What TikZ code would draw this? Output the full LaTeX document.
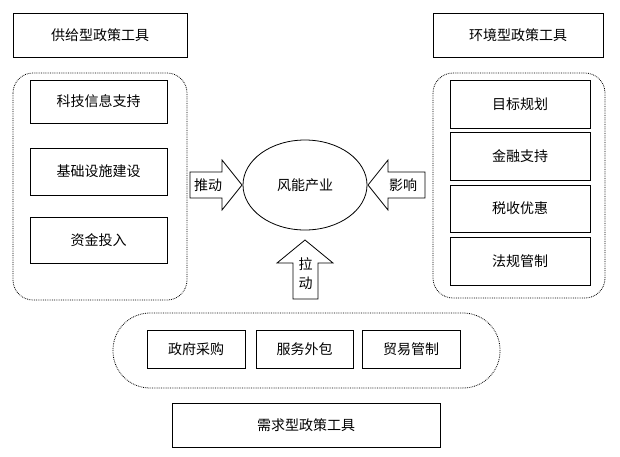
\documentclass[tikz,border=0pt]{standalone}
\usepackage{fontspec}
\usetikzlibrary{shapes.geometric}
\setmainfont{Noto Sans CJK SC}
\begin{document}
\begin{tikzpicture}[x=1pt,y=-1pt,
  box/.style={draw,thick,inner sep=0pt,font=\fontsize{14}{16}\selectfont},
  cont/.style={draw,densely dotted,thick},
  lbl/.style={font=\fontsize{14}{16}\selectfont,inner sep=0pt}]
\useasboundingbox (0,0) rectangle (620,456);
\newcommand\bx[6]{\node[box,minimum width=#4-#2,minimum height=#5-#3] (#1) at ({(#2+#4)/2},{(#3+#5)/2}) {#6};}
\bx{sup}{13}{13}{187}{57}{供给型政策工具}
\bx{env}{433}{13}{603}{57}{环境型政策工具}
\bx{dem}{172}{403}{440}{447}{需求型政策工具}
\draw[cont,rounded corners=20] (13,73) rectangle (187,300);
\draw[cont,rounded corners=20] (433,73) rectangle (605,298);
\draw[cont,rounded corners=37] (113,313) rectangle (500,388);
\bx{s1}{30}{80}{167}{123}{科技信息支持}
\bx{s2}{30}{148}{167}{195}{基础设施建设}
\bx{s3}{30}{217}{167}{263}{资金投入}
\bx{e1}{450}{80}{590}{128}{目标规划}
\bx{e2}{450}{132}{590}{180}{金融支持}
\bx{e3}{450}{185}{590}{232}{税收优惠}
\bx{e4}{450}{237}{590}{285}{法规管制}
\bx{d1}{147}{330}{245}{368}{政府采购}
\bx{d2}{256}{330}{353}{368}{服务外包}
\bx{d3}{362}{330}{460}{368}{贸易管制}
\node[draw,thick,ellipse,minimum width=124,minimum height=90,lbl] (wind) at (305,185) {风能产业};
% push arrow
\draw[thick] (190,172)--(222,172)--(222,160)--(242,185)--(222,210)--(222,198)--(190,198)--cycle;
\node[lbl] (push) at (208,185) {推动};
% influence arrow
\draw[thick] (425,172)--(388,172)--(388,160)--(368,185)--(388,210)--(388,198)--(425,198)--cycle;
\node[lbl] (inf) at (403,185) {影响};
% pull arrow
\draw[thick] (293,299)--(293,263)--(277,263)--(305,240)--(333,263)--(318,263)--(318,299)--cycle;
\node[lbl,align=center,font=\fontsize{14}{19}\selectfont] (pull) at (305.5,274) {拉\\动};
\end{tikzpicture}
\end{document}
